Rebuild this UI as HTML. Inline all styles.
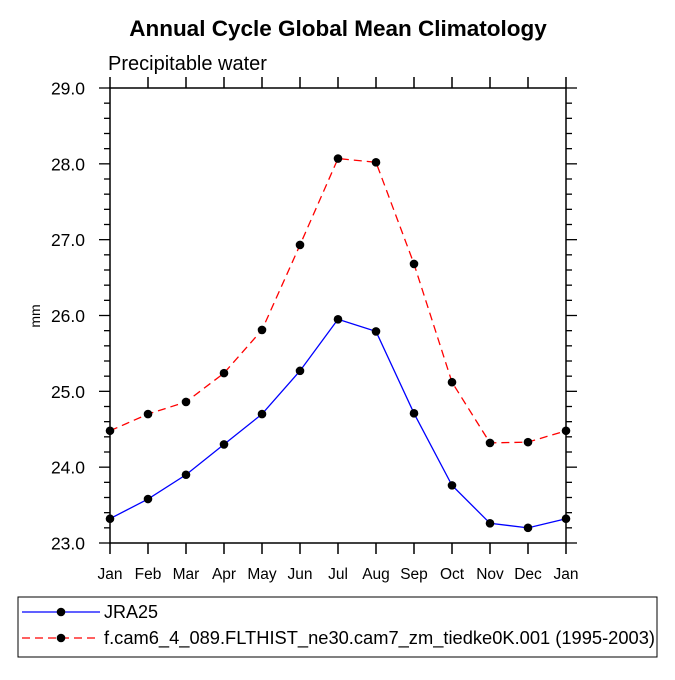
<!DOCTYPE html>
<html><head><meta charset="utf-8"><style>
body{margin:0;background:#fff}
svg text{font-family:"Liberation Sans",Arial,sans-serif;fill:#000}
</style></head><body>
<svg width="675" height="675" viewBox="0 0 675 675">
<text x="338" y="36" text-anchor="middle" font-size="22.5" font-weight="bold">Annual Cycle Global Mean Climatology</text>
<text x="108" y="70" font-size="20">Precipitable water</text>
<text transform="translate(40,316) rotate(-90)" text-anchor="middle" font-size="14">mm</text>
<g id="axes"></g>
<g id="series"></g>
<rect x="18" y="597" width="639" height="60" fill="none" stroke="#000" stroke-width="1"/>
<g>
<line x1="22" y1="612" x2="100" y2="612" stroke="#00f" stroke-width="1.3"/>
<circle cx="61" cy="612" r="4.3" fill="#000"/>
<text x="104" y="618" font-size="18">JRA25</text>
</g>
<g>
<line x1="22" y1="638" x2="100" y2="638" stroke="#f00" stroke-width="1.3" stroke-dasharray="8,5"/>
<circle cx="61" cy="638" r="4.3" fill="#000"/>
<text x="104" y="644" font-size="18" textLength="551" lengthAdjust="spacingAndGlyphs">f.cam6_4_089.FLTHIST_ne30.cam7_zm_tiedke0K.001 (1995-2003)</text>
</g>
</svg>
<script>
const months=["Jan","Feb","Mar","Apr","May","Jun","Jul","Aug","Sep","Oct","Nov","Dec","Jan"];
const jra25=[23.32,23.58,23.90,24.30,24.70,25.27,25.95,25.79,24.71,23.76,23.26,23.20,23.32];
const model=[24.48,24.70,24.86,25.24,25.81,26.93,28.07,28.02,26.68,25.12,24.32,24.33,24.48];
const yTicks=[23,24,25,26,27,28,29];
const NS="http://www.w3.org/2000/svg";
const X0=110,X1=566,Y0=543,Y1=88,YMIN=23,YMAX=29;
const xs=i=>X0+(X1-X0)*i/(months.length-1);
const ys=v=>Y0-(Y0-Y1)*(v-YMIN)/(YMAX-YMIN);
function mk(t,a,p){const e=document.createElementNS(NS,t);for(const k in a)e.setAttribute(k,a[k]);p.appendChild(e);return e;}
const ax=document.getElementById('axes');
const frame=mk('rect',{x:X0,y:Y1,width:X1-X0,height:Y0-Y1,fill:'none',stroke:'#000','stroke-width':1.5},ax);


months.forEach((m,i)=>{
 const x=xs(i);
 mk('line',{x1:x,y1:Y0,x2:x,y2:Y0+11,stroke:'#000','stroke-width':1.5},ax);
 mk('line',{x1:x,y1:Y1,x2:x,y2:Y1-11,stroke:'#000','stroke-width':1.5},ax);
 const t=mk('text',{x:x,y:Y0+36,'text-anchor':'middle','font-size':15.5},ax);
 t.textContent=m;
 
 
});
for(let v=YMIN;v<=YMAX+1e-9;v+=0.2){
 const y=ys(v);const major=Math.abs(v-Math.round(v))<1e-6;const L=major?11:6;
 mk('line',{x1:X0,y1:y,x2:X0-L,y2:y,stroke:'#000','stroke-width':1.3},ax);
 mk('line',{x1:X1,y1:y,x2:X1+L,y2:y,stroke:'#000','stroke-width':1.3},ax);
}
yTicks.forEach(v=>{
 const t=mk('text',{x:X0-25,y:ys(v)+6.5,'text-anchor':'end','font-size':17.5},ax);
 t.textContent=v.toFixed(1);
 
 
});
const sg=document.getElementById('series');
function series(vals,color,dash,name){
 const g=mk('g',{},sg);
 
 
 const a={points:vals.map((v,i)=>xs(i)+','+ys(v)).join(' '),fill:'none',stroke:color,'stroke-width':1.3};
 if(dash)a['stroke-dasharray']=dash;
 mk('polyline',a,g);
 vals.forEach((v,i)=>{
  const c=mk('circle',{cx:xs(i),cy:ys(v),r:4.3,fill:'#000'},g);
  
  
 });
}
series(model,'#f00','8,5','series-model');
series(jra25,'#00f',null,'series-jra25');
</script>
</body></html>
